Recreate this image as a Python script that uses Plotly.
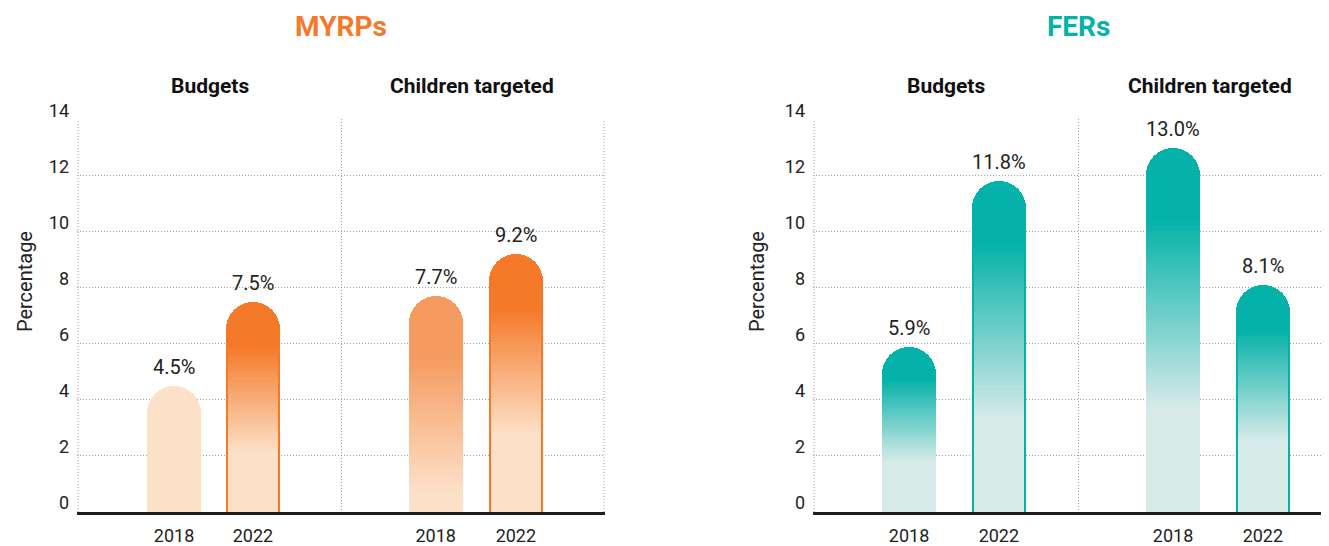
import plotly.graph_objects as go

# ---------------- data ----------------
groups = ["Budgets", "Children targeted"]
years = ["2018", "2022", "2018", "2022"]
panel_titles = ["MYRPs", "FERs"]
myrps_values = [4.5, 7.5, 7.7, 9.2]
fers_values = [5.9, 11.8, 13.0, 8.1]
y_tick_vals = [0, 2, 4, 6, 8, 10, 12, 14]
y_title = "Percentage"

# ---------------- style ----------------
# the page body has an 8px margin, so figure px = reference px - 8
OFF = 8
W, H = 1329 - OFF, 546 - OFF
FONT = "Roboto"
TXT = "#222222"
ORANGE = "#F47A2A"
ORANGE_MID = "#F59B60"
PEACH = "#FDE0C8"
TEAL = "#04B2A9"
TEAL_LIGHT = "#D6EAE8"
GRID = "#a0a0a0"
DOT = "1px,2px"

UNIT = 132.0  # px per x unit
BAR_W = 0.41
INSET = 4 / UNIT
N_STEPS = 40

panels = [
    dict(values=myrps_values, title=panel_titles[0], tcolor=ORANGE,
         pos=[0.73, 1.33, 2.72, 3.33],
         top=[PEACH, ORANGE, ORANGE_MID, ORANGE], bottom=[PEACH] * 4,
         hi=[0.8, 0.79, 0.72, 0.79], lo=[0.3, 0.29, 0.1, 0.31],
         outline=[False, True, False, True],
         domain=[(77 - OFF) / W, (605 - OFF) / W], xrange=[-0.008, 4.008],
         edges=[0, 4]),
    dict(values=fers_values, title=panel_titles[1], tcolor=TEAL,
         pos=[0.72, 1.40, 2.72, 3.40],
         top=[TEAL] * 4, bottom=[TEAL_LIGHT] * 4,
         hi=[0.81, 0.82, 0.81, 0.81], lo=[0.31, 0.29, 0.29, 0.32],
         outline=[False, True, False, True],
         domain=[(813 - OFF) / W, 1.0], xrange=[-0.008, (1329 - 813) / UNIT - 0.008],
         edges=[0]),
]


def hex2rgb(h):
    h = h.lstrip("#")
    return tuple(int(h[i:i + 2], 16) for i in (0, 2, 4))


def mix(c1, c2, t):
    a, b = hex2rgb(c1), hex2rgb(c2)
    r = [round(a[i] + (b[i] - a[i]) * t) for i in range(3)]
    return "rgb(%d,%d,%d)" % tuple(r)


fig = go.Figure()
annotations = []
shapes = []

for pi, p in enumerate(panels):
    xa = "x" if pi == 0 else "x2"
    ya = "y" if pi == 0 else "y2"
    vals = p["values"]
    # full bar with rounded top in top colour
    fig.add_trace(go.Bar(
        x=p["pos"], y=vals, xaxis=xa, yaxis=ya, width=[BAR_W] * 4,
        marker=dict(color=p["top"], line=dict(width=0), cornerradius="50%"),
        hoverinfo="skip", showlegend=False))
    # gradient overlays
    for k in range(N_STEPS + 1):
        t = k / N_STEPS
        heights, colors, widths = [], [], []
        for i, v in enumerate(vals):
            f = p["hi"][i] + (p["lo"][i] - p["hi"][i]) * t
            heights.append(v * f)
            colors.append(mix(p["top"][i], p["bottom"][i], t))
            widths.append(BAR_W - INSET if p["outline"][i] else BAR_W)
        fig.add_trace(go.Bar(
            x=p["pos"], y=heights, xaxis=xa, yaxis=ya, width=widths,
            marker=dict(color=colors, line=dict(width=0)),
            hoverinfo="skip", showlegend=False))
    # value labels
    for i, v in enumerate(vals):
        annotations.append(dict(
            x=p["pos"][i], y=v, xref=xa, yref=ya, text="%.1f%%" % v,
            showarrow=False, yanchor="bottom", yshift=5,
            font=dict(family=FONT, size=20, color=TXT)))
    # group subtitles
    for gi, g in enumerate(groups):
        annotations.append(dict(
            x=1 + 2 * gi, y=1.084, xref=xa, yref="paper", text="<b>%s</b>" % g,
            showarrow=False, yanchor="middle",
            font=dict(family=FONT, size=21, color="#111111")))
    # panel title
    annotations.append(dict(
        x=2, y=1.236, xref=xa, yref="paper", text="<b>%s</b>" % p["title"],
        showarrow=False, yanchor="middle",
        font=dict(family=FONT, size=28, color=p["tcolor"])))
    # dotted panel edges
    for e in p["edges"]:
        shapes.append(dict(type="line", xref=xa, yref=ya, x0=e, x1=e, y0=0, y1=14,
                           line=dict(color=GRID, width=1, dash=DOT), layer="below"))

# y titles
for xp in (25 - OFF, 757 - OFF):
    annotations.append(dict(
        x=xp / W, y=0.585, xref="paper", yref="paper", text=y_title,
        textangle=-90, showarrow=False, xanchor="center", yanchor="middle",
        font=dict(family=FONT, size=20, color=TXT)))

xcommon = dict(
    tickmode="array", ticks="", showgrid=False, zeroline=False,
    showline=True, linewidth=3, linecolor="#1e1e1e", layer="above traces",
    ticklabelstandoff=5,
    tickfont=dict(family=FONT, size=18, color=TXT),
    minor=dict(tickmode="array", tickvals=[2], showgrid=True,
               gridcolor=GRID, gridwidth=1, griddash=DOT, ticks=""),
    fixedrange=True)
ycommon = dict(
    range=[0, 14.02], tickmode="array", tickvals=y_tick_vals,
    showgrid=True, gridcolor=GRID, gridwidth=1, griddash=DOT,
    zeroline=False, showline=False, ticks="",
    ticklabelstandoff=7, ticklabelshift=-9,
    tickfont=dict(family=FONT, size=18, color=TXT), domain=[0, 1],
    fixedrange=True)

fig.update_layout(
    width=W, height=H, barmode="overlay", bargap=0,
    paper_bgcolor="white", plot_bgcolor="white",
    margin=dict(l=0, r=0, t=119 - OFF, b=H - (512 - OFF), autoexpand=False),
    xaxis=dict(xcommon, domain=panels[0]["domain"], range=panels[0]["xrange"],
               tickvals=panels[0]["pos"], ticktext=years, anchor="y"),
    xaxis2=dict(xcommon, domain=panels[1]["domain"], range=panels[1]["xrange"],
                tickvals=panels[1]["pos"], ticktext=years, anchor="y2"),
    yaxis=dict(ycommon, anchor="x"),
    yaxis2=dict(ycommon, anchor="x2"),
    annotations=annotations,
    shapes=shapes,
    showlegend=False,
)

fig.write_html("out.html")
